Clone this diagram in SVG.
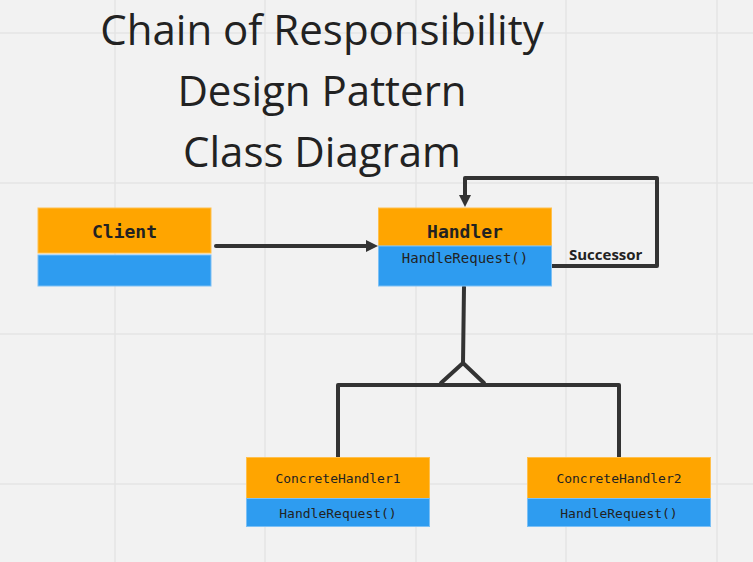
<svg xmlns="http://www.w3.org/2000/svg" width="753" height="562" viewBox="0 0 753 562">
<defs>
<style>
.grid{stroke:#e4e4e4;stroke-width:1.5}
.hd{fill:#FFA500;stroke:#ffc04d;stroke-width:1}
.bd{fill:#2E9CF0;stroke:#7cc0f5;stroke-width:1}
.t{font-family:"Open Sans",sans-serif;font-size:42px;fill:#222;text-anchor:middle}
.nm{font-family:"DejaVu Sans Mono","Liberation Mono",monospace;font-weight:bold;font-size:18px;fill:#222;text-anchor:middle}
.sm{font-family:"DejaVu Sans Mono","Liberation Mono",monospace;font-size:13px;fill:#222;text-anchor:middle}
.c{fill:none;stroke:#333;stroke-width:4;stroke-linejoin:round;stroke-linecap:round}
.lbl{font-family:"Open Sans",sans-serif;font-weight:bold;font-size:15px;fill:#222}
</style>
</defs>
<rect width="753" height="562" fill="#f2f2f2"/>
<g id="grid">
<line class="grid" x1="115" y1="0" x2="115" y2="562"/>
<line class="grid" x1="265" y1="0" x2="265" y2="562"/>
<line class="grid" x1="416" y1="0" x2="416" y2="562"/>
<line class="grid" x1="566" y1="0" x2="566" y2="562"/>
<line class="grid" x1="717" y1="0" x2="717" y2="562"/>
<line class="grid" x1="0" y1="33" x2="753" y2="33"/>
<line class="grid" x1="0" y1="183" x2="753" y2="183"/>
<line class="grid" x1="0" y1="334" x2="753" y2="334"/>
<line class="grid" x1="0" y1="484" x2="753" y2="484"/>
</g>
<g id="title">
<text class="t" x="322" y="45">Chain of Responsibility</text>
<text class="t" x="322" y="106">Design Pattern</text>
<text class="t" x="322" y="167">Class Diagram</text>
</g>
<g id="connectors">
<line class="c" x1="216" y1="246" x2="368" y2="246"/>
<path d="M366,240 L378,246 L366,252 Z" fill="#333"/>
<path class="c" d="M552,266 L657,266 L657,178 L465,178 L465,196"/>
<path d="M459,195 L465,207 L471,195 Z" fill="#333"/>
<path class="c" d="M464,287 L463,363"/>
<path class="c" d="M441,383 L463,363 L484,383"/>
<path class="c" d="M338,457 L338,385 L619,385 L619,457"/>
<text class="lbl" x="569" y="260">Successor</text>
</g>
<g id="client">
<rect class="hd" x="38" y="208" width="173" height="45"/>
<rect class="bd" x="38" y="255" width="173" height="31"/>
<text class="nm" x="124.5" y="238">Client</text>
</g>
<g id="handler">
<rect class="hd" x="378.5" y="208" width="173" height="38"/>
<rect class="bd" x="378.5" y="246" width="173" height="40"/>
<text class="nm" x="465" y="238">Handler</text>
<text class="sm" x="465" y="263" style="font-size:14px">HandleRequest()</text>
</g>
<g id="concrete1">
<rect class="hd" x="246.5" y="457.5" width="183" height="41"/>
<rect class="bd" x="246.5" y="498.5" width="183" height="28"/>
<text class="sm" x="338" y="483">ConcreteHandler1</text>
<text class="sm" x="338" y="518">HandleRequest()</text>
</g>
<g id="concrete2">
<rect class="hd" x="527.5" y="457.5" width="183" height="41"/>
<rect class="bd" x="527.5" y="498.5" width="183" height="28"/>
<text class="sm" x="619" y="483">ConcreteHandler2</text>
<text class="sm" x="619" y="518">HandleRequest()</text>
</g>
</svg>
